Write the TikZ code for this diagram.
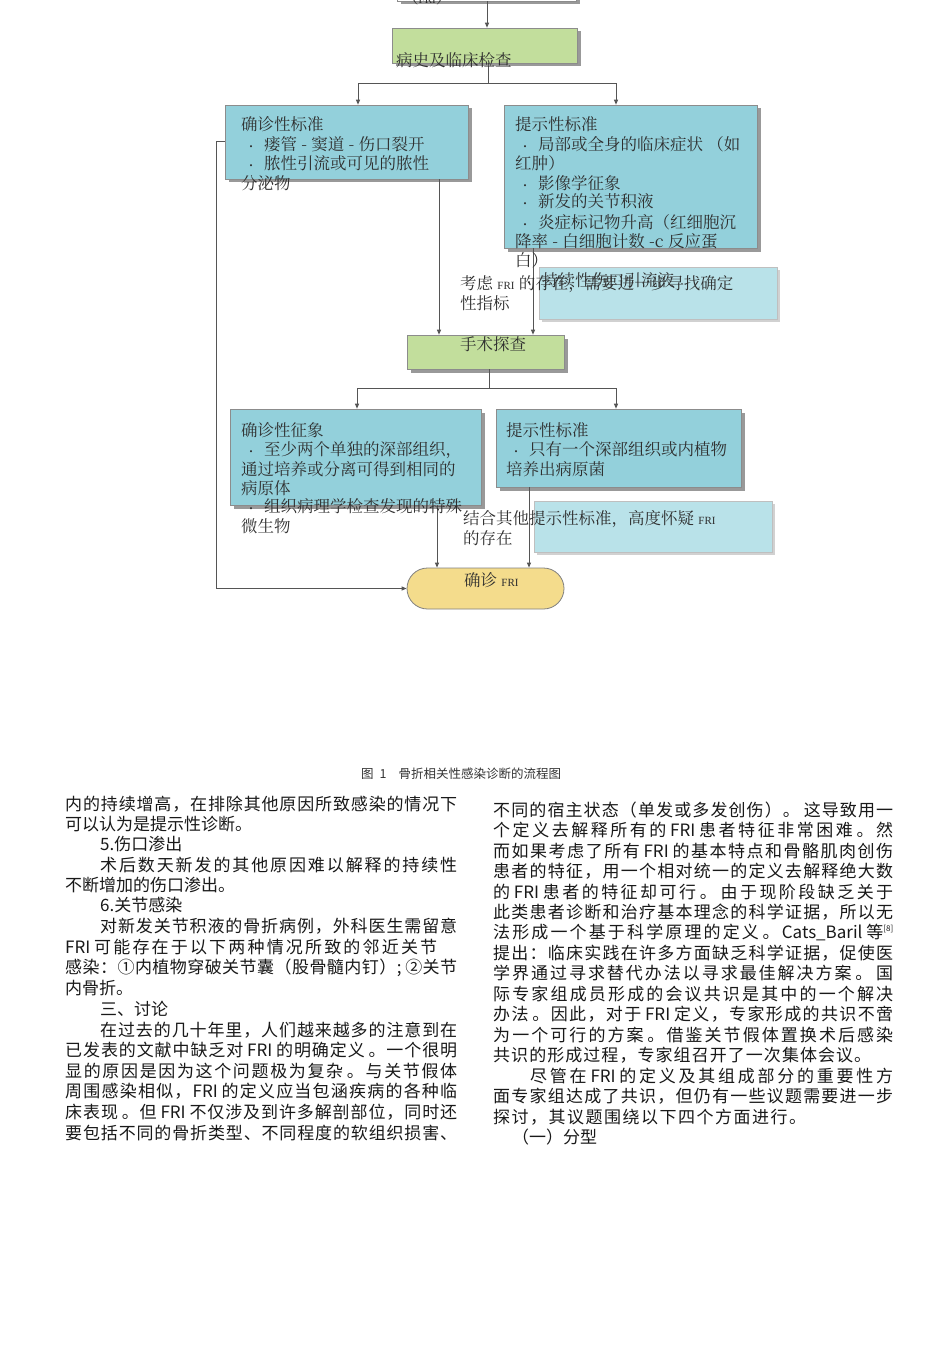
\documentclass[tikz,border=0pt]{standalone}
\usepackage{fontspec}
\usetikzlibrary{shadows,arrows.meta}
\newfontfamily\bodyfont{Noto Sans CJK SC}
\IfFontExistsTF{FandolSong-Regular.otf}{\newfontfamily\chartfont{FandolSong-Regular.otf}}{%
  \IfFontExistsTF{FandolSong}{\newfontfamily\chartfont{FandolSong}}{%
    \IfFontExistsTF{Noto Serif CJK SC}{\newfontfamily\chartfont{Noto Serif CJK SC}}{\newfontfamily\chartfont{Noto Sans CJK SC}}}}
\newfontfamily\latinserif{Liberation Serif}
% inter-character glue so that justified lines spread over all characters
\XeTeXinterchartokenstate=1
\newXeTeXintercharclass\cjkclass
\newcount\cjkcc
\cjkcc="3000 \loop \XeTeXcharclass\cjkcc=\cjkclass \advance\cjkcc by 1 \ifnum\cjkcc<"3040 \repeat
\cjkcc="4E00 \loop \XeTeXcharclass\cjkcc=\cjkclass \advance\cjkcc by 1 \ifnum\cjkcc<"A000 \repeat
\cjkcc="FF00 \loop \XeTeXcharclass\cjkcc=\cjkclass \advance\cjkcc by 1 \ifnum\cjkcc<"FFF0 \repeat
\cjkcc="2460 \loop \XeTeXcharclass\cjkcc=\cjkclass \advance\cjkcc by 1 \ifnum\cjkcc<"2474 \repeat
\XeTeXinterchartoks\cjkclass\cjkclass={\hskip0pt plus 1fil\relax}
\XeTeXinterchartoks\cjkclass 0={\hskip0pt plus 1fil\relax}
\XeTeXinterchartoks 0\cjkclass={\hskip0pt plus 1fil\relax}
\definecolor{cyanbox}{HTML}{93D0DB}
\definecolor{lightbox}{HTML}{B9E2E9}
\definecolor{greenbox}{HTML}{C2DE9C}
\definecolor{yellowbox}{HTML}{F4DC8C}
\definecolor{linec}{HTML}{555555}
\definecolor{txt}{HTML}{2E2E2E}
\newcommand\jl[2]{\makebox[#1][s]{#2}}
\newcommand\fri{{\latinserif\fontsize{11}{11}\selectfont FRI}}
\newcommand\bul{\makebox[23pt][l]{\hspace{5pt}{\bodyfont\fontsize{10}{10}\selectfont •}}}
\begin{document}
\begin{tikzpicture}[x=1pt,y=-1pt,
  box/.style={draw=black!45, line width=0.6pt, inner sep=0pt, drop shadow={shadow xshift=3.5pt,shadow yshift=-3.5pt,fill=black!40,opacity=1}},
  cbox/.style={box, fill=cyanbox},
  lbox/.style={draw=black!25, line width=0.5pt, inner sep=0pt, fill=lightbox, drop shadow={shadow xshift=3pt,shadow yshift=-3pt,fill=black!18,opacity=1}},
  gbox/.style={box, fill=greenbox},
  ybox/.style={draw=black!50, line width=0.8pt, fill=yellowbox, inner sep=0pt, rounded corners=20.5pt},
  conn/.style={draw=linec, line width=1pt},
  arr/.style={conn, -{Triangle[length=5pt,width=4pt]}},
  ct/.style={anchor=west, inner sep=0pt, text=txt, font=\chartfont\fontsize{16.5}{16.5}\selectfont},
  bt/.style={anchor=west, inner sep=0pt, text=black!90, font=\bodyfont\fontsize{17}{17}\selectfont},
]
\useasboundingbox (0,0) rectangle (950,1367);
\fill[white] (0,0) rectangle (950,1367);

% ---------- boxes ----------
\node[box, fill=white, minimum width=179pt, minimum height=30pt] (top) at (487,-14) {};
\node[gbox, minimum width=185pt, minimum height=35pt] (hist) at (484.5,45.5) {};
\node[cbox, minimum width=243pt, minimum height=74pt] (conf1) at (346.5,142) {};
\node[cbox, minimum width=253pt, minimum height=143pt] (sugg1) at (630.5,176.5) {};
\node[lbox, minimum width=238pt, minimum height=52pt] (ann1) at (658,293) {};
\node[gbox, minimum width=157pt, minimum height=34pt] (surg) at (485.5,352) {};
\node[cbox, minimum width=251pt, minimum height=96pt] (conf2) at (355.5,457) {};
\node[cbox, minimum width=245pt, minimum height=78pt] (sugg2) at (618.5,448) {};
\node[lbox, minimum width=238pt, minimum height=51pt] (ann2) at (653,526.5) {};
\node[ybox, minimum width=157pt, minimum height=41pt] (final) at (485.5,588.5) {};

% ---------- connectors ----------
\draw[arr] (top.south) -- (top.south |- hist.north);
\coordinate (j1) at (488,84);
\draw[conn] (hist.south -| j1) -- (j1);
\draw[arr] (j1) -| ([xshift=11.5pt]conf1.north);
\draw[arr] (j1) -| ([xshift=-14.5pt]sugg1.north);
\draw[arr] ([xshift=92.5pt]conf1.south) -- ([xshift=92.5pt]conf1.south |- surg.north);
\draw[arr] ([xshift=-97.5pt]sugg1.south) -- ([xshift=-97.5pt]sugg1.south |- surg.north);
\coordinate (j2) at (489,388);
\draw[conn] (surg.south -| j2) -- (j2);
\draw[arr] (j2) -| ([xshift=1.5pt]conf2.north);
\draw[arr] (j2) -| ([xshift=-2.5pt]sugg2.north);
\draw[arr] ([xshift=81.5pt]conf2.south) -- ([xshift=81.5pt]conf2.south |- final.north);
\draw[arr] ([xshift=-89.5pt]sugg2.south) -- ([xshift=-89.5pt]sugg2.south |- final.north);
\draw[arr] (conf1.west) -- ++(-8,0) |- (final.west);

% ---------- chart texts ----------
\node[ct] (t0) at (402,-3) {（\fri）};
\node[ct] (t1) at (396,60) {病史及临床检查};

\node[ct] (c1a) at (241,124) {确诊性标准};
\node[ct] (c1b) at (241,144) {\bul 瘘管 - 窦道 - 伤口裂开};
\node[ct] (c1c) at (241,163) {\bul 脓性引流或可见的脓性};
\node[ct] (c1d) at (241,183) {分泌物};

\node[ct] (s1a) at (515,124) {提示性标准};
\node[ct] (s1b) at (515,144) {\bul 局部或全身的临床症状 （如};
\node[ct] (s1c) at (515,163) {红肿）};
\node[ct] (s1d) at (515,183) {\bul 影像学征象};
\node[ct] (s1e) at (515,202) {\bul 新发的关节积液};
\node[ct] (s1f) at (515,222) {\bul 炎症标记物升高（红细胞沉};
\node[ct] (s1g) at (515,241) {降率 - 白细胞计数 -c 反应蛋};
\node[ct] (s1h) at (515,260) {白）};

\node[ct] (a1a) at (519,280) {\bul 持续性伤口引流液};
\node[ct] (a1b) at (460,284) {考虑 \fri{} 的存在，需要进一步寻找确定};
\node[ct] (a1c) at (460,303) {性指标};

\node[ct] (t2) at (460,344) {手术探查};

\node[ct] (c2a) at (241,430) {确诊性征象};
\node[ct] (c2b) at (241,450) {\bul 至少两个单独的深部组织，};
\node[ct] (c2c) at (241,469) {通过培养或分离可得到相同的};
\node[ct] (c2d) at (241,488) {病原体};
\node[ct] (c2e) at (241,507) {\bul 组织病理学检查发现的特殊};
\node[ct] (c2f) at (241,526) {微生物};

\node[ct] (s2a) at (506,430) {提示性标准};
\node[ct] (s2b) at (506,450) {\bul 只有一个深部组织或内植物};
\node[ct] (s2c) at (506,469) {培养出病原菌};

\node[ct] (a2a) at (463,519) {结合其他提示性标准，高度怀疑 \fri};
\node[ct] (a2b) at (463,538) {的存在};

\node[ct] (t3) at (464,580) {确诊 \fri};

% ---------- caption ----------
\node[anchor=west, inner sep=0pt, text=black!80, font=\bodyfont\fontsize{12.5}{12.5}\selectfont] (cap) at (361,774) {图\hspace{6pt}1\hspace{12pt}骨折相关性感染诊断的流程图};

% ---------- left column ----------
\node[bt] (L1) at (65,804) {\jl{392pt}{内的持续增高，在排除其他原因所致感染的情况下}};
\node[bt] (L2) at (65,824) {可以认为是提示性诊断。};
\node[bt] (L3) at (100,844) {5.伤口渗出};
\node[bt] (L4) at (100,865) {\jl{357pt}{术后数天新发的其他原因难以解释的持续性}};
\node[bt] (L5) at (65,885) {不断增加的伤口渗出。};
\node[bt] (L6) at (100,905) {6.关节感染};
\node[bt] (L7) at (100,926) {\jl{357pt}{对新发关节积液的骨折病例，外科医生需留意}};
\node[bt] (L8) at (65,947) {\jl{372pt}{FRI 可能存在于以下两种情况所致的邻近关节}};
\node[bt] (L9) at (65,968) {\jl{392pt}{感染：①内植物穿破关节囊（股骨髓内钉）; ②关节}};
\node[bt] (L10) at (65,988) {内骨折。};
\node[bt] (L11) at (100,1009) {三、讨论};
\node[bt] (L12) at (100,1030) {\jl{357pt}{在过去的几十年里，人们越来越多的注意到在}};
\node[bt] (L13) at (65,1050) {\jl{392pt}{已发表的文献中缺乏对 FRI 的明确定义 。一个很明}};
\node[bt] (L14) at (65,1071) {\jl{392pt}{显的原因是因为这个问题极为复杂 。与关节假体}};
\node[bt] (L15) at (65,1091) {\jl{392pt}{周围感染相似，FRI 的定义应当包涵疾病的各种临}};
\node[bt] (L16) at (65,1112) {\jl{392pt}{床表现 。但 FRI 不仅涉及到许多解剖部位，同时还}};
\node[bt] (L17) at (65,1133) {\jl{392pt}{要包括不同的骨折类型、不同程度的软组织损害、}};

% ---------- right column ----------
\node[bt] (R1) at (493,810) {\jl{400pt}{不同的宿主状态（单发或多发创伤）。 这导致用一}};
\node[bt] (R2) at (493,830) {\jl{400pt}{个定义去解释所有的 FRI 患者特征非常困难 。然}};
\node[bt] (R3) at (493,851) {\jl{400pt}{而如果考虑了所有 FRI 的基本特点和骨骼肌肉创伤}};
\node[bt] (R4) at (493,871) {\jl{400pt}{患者的特征，用一个相对统一的定义去解释绝大数}};
\node[bt] (R5) at (493,892) {\jl{400pt}{的 FRI 患者的特征却可行 。 由于现阶段缺乏关于}};
\node[bt] (R6) at (493,912) {\jl{400pt}{此类患者诊断和治疗基本理念的科学证据，所以无}};
\node[bt] (R7) at (493,932) {\jl{400pt}{法形成一个基于科学原理的定义 。Cats\_Baril 等\raisebox{7pt}{\fontsize{8}{8}\selectfont [8]}}};
\node[bt] (R8) at (493,953) {\jl{400pt}{提出：临床实践在许多方面缺乏科学证据，促使医}};
\node[bt] (R9) at (493,973) {\jl{400pt}{学界通过寻求替代办法以寻求最佳解决方案 。 国}};
\node[bt] (R10) at (493,994) {\jl{400pt}{际专家组成员形成的会议共识是其中的一个解决}};
\node[bt] (R11) at (493,1014) {\jl{400pt}{办法 。因此，对于 FRI 定义，专家形成的共识不啻}};
\node[bt] (R12) at (493,1035) {\jl{400pt}{为一个可行的方案 。借鉴关节假体置换术后感染}};
\node[bt] (R13) at (493,1055) {\jl{378pt}{共识的形成过程，专家组召开了一次集体会议。}};
\node[bt] (R14) at (530,1076) {\jl{363pt}{尽管在 FRI 的定义及其组成部分的重要性方}};
\node[bt] (R15) at (493,1096) {\jl{400pt}{面专家组达成了共识，但仍有一些议题需要进一步}};
\node[bt] (R16) at (493,1117) {\jl{313pt}{探讨，其议题围绕以下四个方面进行。}};
\node[bt] (R17) at (512,1137) {（一）分型};
\end{tikzpicture}
\end{document}
